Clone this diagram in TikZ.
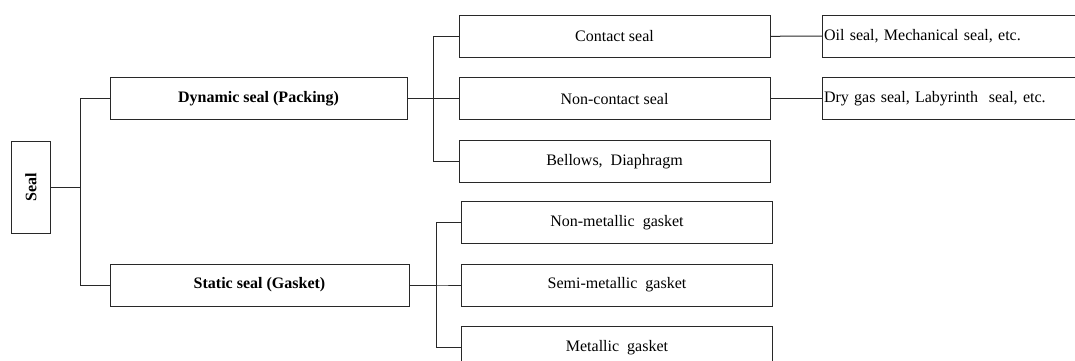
\documentclass[tikz,border=0pt]{standalone}
\usepackage{fontspec}
\setmainfont{Liberation Serif}
\usetikzlibrary{positioning,calc}
\definecolor{linegray}{RGB}{40, 40, 40}

\begin{document}
\begin{tikzpicture}[x=1pt, y=-1pt,
    every node/.style={font=\fontsize{16}{19}\selectfont},
    box/.style={draw=linegray, line width=1pt, inner sep=1.5pt, minimum height=42pt},
    rootbox/.style={box, font=\fontsize{16}{19}\selectfont\bfseries, minimum width=39pt, minimum height=91.6pt},
    typebox/.style={box, font=\fontsize{16}{19}\selectfont\bfseries},
    kindbox/.style={box, minimum width=311pt},
    examplebox/.style={box, anchor=west, text width=277pt, align=left},
    link/.style={draw=linegray, line width=1pt}]

\useasboundingbox (0,0) rectangle (1075,360);
\clip (0,0) rectangle (1075,360);

% Root
\node[rootbox] (seal) at (31,187.5) {\rotatebox{90}{Seal}};

% Two families
\node[typebox, minimum width=297pt] (dyn) at (258.5,98.7) {Dynamic seal (Packing)};
\node[typebox, minimum width=299pt] (stat) at (259.5,285) {Static seal (Gasket)};

% Dynamic seals
\node[kindbox] (contact) at (614.5,36.3) {Contact seal};
\node[kindbox] (noncontact) at (614.5,98.7) {Non-contact seal};
\node[kindbox] (bellows) at (614.5,161.2) {Bellows,\ \ Diaphragm};

% Gaskets
\node[kindbox] (nonmetal) at (617,222.5) {Non-metallic\ \ gasket};
\node[kindbox] (semimetal) at (617,285) {Semi-metallic\ \ gasket};
\node[kindbox] (metal) at (617,347.7) {Metallic\ \ gasket};

% Examples
\node[examplebox] (exContact) at (822,36) {Oil seal, Mechanical seal, etc.};
\node[examplebox] (exNoncontact) at (822,98.7) {Dry gas seal, Labyrinth\ \ seal, etc.};

% Tree lines
\draw[link] (seal.east) -- +(29,0) |- (dyn.west);
\draw[link] (seal.east) -- +(29,0) |- (stat.west);

\draw[link] (dyn.east) -- +(26,0) |- (contact.west);
\draw[link] (dyn.east) -- +(26,0) |- (noncontact.west);
\draw[link] (dyn.east) -- +(26,0) |- (bellows.west);

\draw[link] (stat.east) -- +(26.6,0) |- (nonmetal.west);
\draw[link] (stat.east) -- +(26.6,0) |- (semimetal.west);
\draw[link] (stat.east) -- +(26.6,0) |- (metal.west);

\draw[link] (contact.east) -- (exContact.west);
\draw[link] (noncontact.east) -- (exNoncontact.west);

\end{tikzpicture}
\end{document}
